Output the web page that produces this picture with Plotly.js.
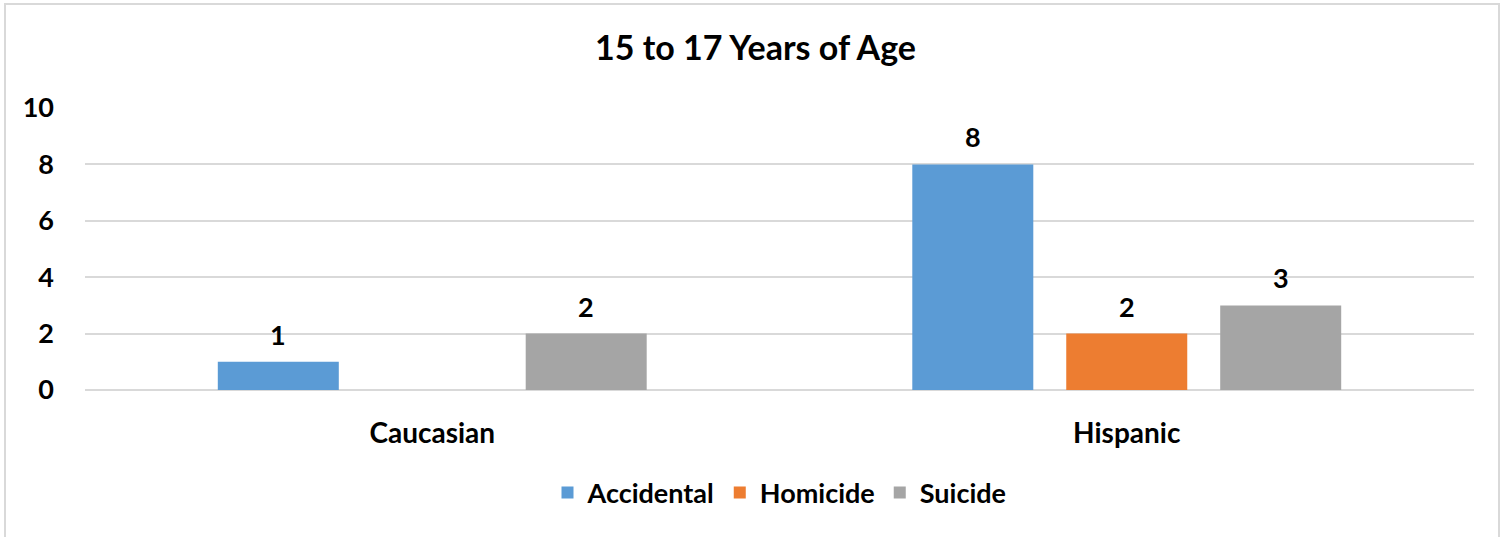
<!DOCTYPE html>
<html>
<head>
<meta charset="utf-8">
<script src="https://cdn.plot.ly/plotly-3.0.1.min.js"></script>
<style>
html, body { margin: 0; padding: 0; background: #fff; }
#wrap { position: relative; width: 1511px; height: 537px; }
#chart { width: 1511px; height: 537px; }
#frame { position: absolute; left: 4px; top: 3px; width: 1496px; height: 540px; border: 2px solid #d9d9d9; pointer-events: none; box-sizing: border-box; }
</style>
</head>
<body>
<div id="wrap">
<div id="chart"></div>
<div id="frame"></div>
</div>
<script>
const categories = ["Caucasian", "Hispanic"];
const seriesNames = ["Accidental", "Homicide", "Suicide"];
const accidental = [1, 8];
const homicide = [null, 2];
const suicide = [2, 3];
const yTicks = [0, 2, 4, 6, 8, 10];

const colors = ["#5b9bd5", "#ed7d31", "#a5a5a5"];
const values = [accidental, homicide, suicide];
const FONT = "Lato, 'Open Sans', sans-serif";
const W = 1511, H = 537;
const margin = { l: 85, r: 37, t: 108, b: 147 };
const bargap = 0.335, bargroupgap = 0.214;

const traces = values.map((v, i) => ({
  type: "bar",
  name: seriesNames[i],
  x: categories,
  y: v,
  marker: { color: colors[i] },
  hoverinfo: "x+y+name"
}));

// data labels above each bar, placed through the axis scales
const plotW = W - margin.l - margin.r;
const slot = plotW / categories.length * (1 - bargap) / values.length;
const annotations = [];
values.forEach((v, i) => {
  v.forEach((d, j) => {
    if (d === null) return;
    annotations.push({
      x: categories[j], y: d, xref: "x", yref: "y",
      text: "<b>" + d + "</b>", showarrow: false,
      xanchor: "center", yanchor: "bottom",
      xshift: (i - (values.length - 1) / 2) * slot,
      yshift: 9,
      font: { family: FONT, size: 27, color: "#000" }
    });
  });
});

const layout = {
  width: W,
  height: H,
  margin: margin,
  paper_bgcolor: "#fff",
  plot_bgcolor: "#fff",
  font: { family: FONT, color: "#000", size: 27, weight: "bold" },
  title: { text: "<b>15 to 17 Years of Age</b>", x: 0.5, xanchor: "center", y: 0.91, yanchor: "middle", font: { family: FONT, size: 34, color: "#000" } },
  barmode: "group",
  bargap: bargap,
  bargroupgap: bargroupgap,
  annotations: annotations,
  xaxis: {
    type: "category",
    showgrid: false,
    showline: false,
    zeroline: false,
    ticks: "",
    tickfont: { family: FONT, size: 28, color: "#000", weight: "bold" },
    ticklabelstandoff: 24
  },
  yaxis: {
    range: [0, 10],
    tickvals: yTicks,
    ticktext: yTicks.map(String),
    showgrid: true,
    gridcolor: "#d9d9d9",
    gridwidth: 2,
    zeroline: true,
    zerolinecolor: "#d9d9d9",
    zerolinewidth: 2,
    showline: false,
    ticks: "",
    ticklabelstandoff: 30,
    tickfont: { family: FONT, size: 27, color: "#000", weight: "bold" }
  },
  showlegend: true,
  legend: {
    orientation: "h",
    x: 0.5, xanchor: "center",
    y: -0.365, yanchor: "middle",
    font: { family: FONT, size: 27, color: "#000", weight: "bold" },
    itemwidth: 30,
    traceorder: "normal"
  }
};

Plotly.newPlot("chart", traces, layout, { displayModeBar: false, staticPlot: true });
</script>
</body>
</html>
